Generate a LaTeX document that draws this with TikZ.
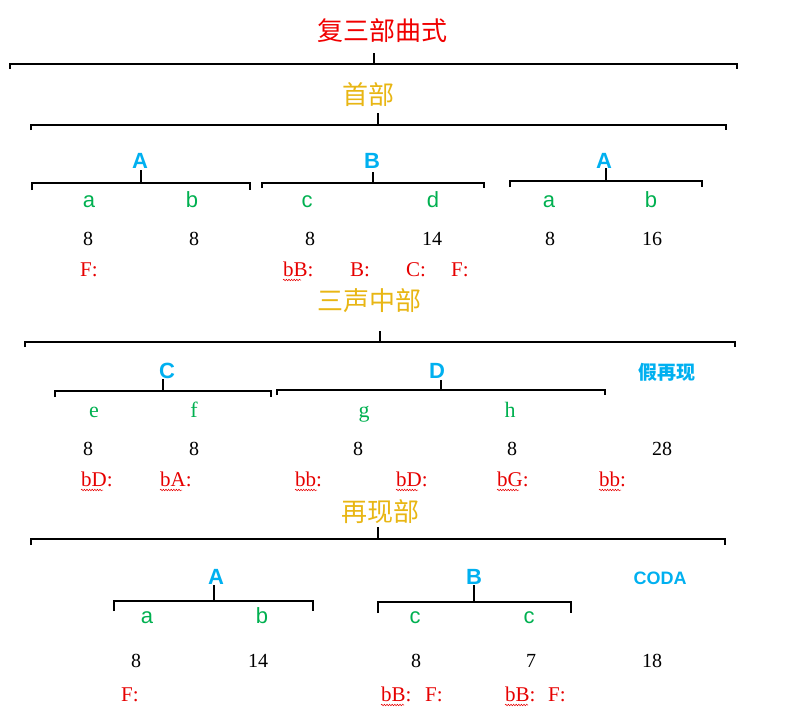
\documentclass[tikz,border=0pt]{standalone}
\usepackage{fontspec}
\setmainfont{Liberation Serif}
\setsansfont{Liberation Sans}
\newfontfamily\cjk{Noto Sans CJK SC}
\usepackage{xcolor}
\usetikzlibrary{positioning,decorations.pathmorphing}

\definecolor{titlered}{RGB}{240,0,0}
\definecolor{secyellow}{RGB}{232,182,20}
\definecolor{partblue}{RGB}{0,176,240}
\definecolor{subgreen}{RGB}{0,176,80}
\definecolor{keyred}{RGB}{230,0,0}

\tikzset{
    ttl/.style={inner sep=0pt, font=\cjk\fontsize{26}{30}\selectfont, text=titlered},
    sec/.style={inner sep=0pt, font=\cjk\fontsize{26}{30}\selectfont, text=secyellow},
    part/.style={inner sep=0pt, anchor=base, font=\sffamily\bfseries\fontsize{22}{26}\selectfont, text=partblue},
    note/.style={inner sep=0pt, anchor=base, font=\sffamily\bfseries\fontsize{18}{22}\selectfont, text=partblue},
    cnote/.style={inner sep=0pt, anchor=base, font=\cjk\bfseries\fontsize{19}{22}\selectfont, text=partblue},
    sub/.style={inner sep=0pt, anchor=base, font=\sffamily\fontsize{22}{26}\selectfont, text=subgreen},
    subs/.style={inner sep=0pt, anchor=base, font=\rmfamily\fontsize{22}{26}\selectfont, text=subgreen},
    num/.style={inner sep=0pt, anchor=base, font=\rmfamily\fontsize{20}{24}\selectfont},
    key/.style={inner sep=0pt, anchor=base west, font=\rmfamily\fontsize{21}{24}\selectfont, text=keyred},
    brk/.style={line width=1.5pt},
    wavy/.style={keyred, line width=0.5pt, decorate, decoration={snake, amplitude=0.8pt, segment length=2.6pt}}
}

\begin{document}
\begin{tikzpicture}[x=1pt,y=-1pt]
    \useasboundingbox (0,0) rectangle (788,715);

    % Whole form
    \node[ttl] (top) at (382,31) {复三部曲式};
    \draw[brk] (10,69) -- (10,64) -- (737,64) -- (737,69) (374,64) -- (374,53);

    % First part
    \node[sec] (s1) at (368,95) {首部};
    \draw[brk] (31,130) -- (31,125) -- (726,125) -- (726,130) (378,125) -- (378,113);

    \node[part] (p1a) at (140,168) {A};
    \draw[brk] (32,190) -- (32,183) -- (250,183) -- (250,190) (141,183) -- (141,170);
    \node[part] (p1b) at (372,168) {B};
    \draw[brk] (262,188) -- (262,183) -- (484,183) -- (484,188) (373,183) -- (373,172);
    \node[part] (p1c) at (604,168) {A};
    \draw[brk] (510,187) -- (510,181) -- (702,181) -- (702,187) (606,181) -- (606,168);

    \node[sub] (q1) at (89,207) {a};
    \node[sub] (q2) at (192,207) {b};
    \node[sub] (q3) at (307,207) {c};
    \node[sub] (q4) at (433,207) {d};
    \node[sub] (q5) at (549,207) {a};
    \node[sub] (q6) at (651,207) {b};

    \node[num] (n1) at (88,245) {8};
    \node[num] (n2) at (194,245) {8};
    \node[num] (n3) at (310,245) {8};
    \node[num] (n4) at (432,245) {14};
    \node[num] (n5) at (550,245) {8};
    \node[num] (n6) at (652,245) {16};

    \node[key] (k1) at (80,276) {F:};
    \node[key] (k2) at (283,276) {bB:};
    \node[key] (k3) at (350,276) {B:};
    \node[key] (k4) at (406,276) {C:};
    \node[key] (k5) at (451,276) {F:};
    \draw[wavy] ([yshift=-4pt]k2.base west) -- ++(18,0);

    % Middle part
    \node[sec] (s2) at (369,301) {三声中部};
    \draw[brk] (25,347) -- (25,342) -- (735,342) -- (735,347) (380,342) -- (380,331);

    \node[part] (p2a) at (167,378) {C};
    \draw[brk] (55,397) -- (55,391) -- (271,391) -- (271,397) (163,391) -- (163,379);
    \node[part] (p2b) at (437,378) {D};
    \draw[brk] (277,395) -- (277,390) -- (605,390) -- (605,395) (441,390) -- (441,380);
    \node[cnote] (p2c) at (667,379) {假再现};

    \node[subs] (r1) at (94,417) {e};
    \node[subs] (r2) at (194,417) {f};
    \node[subs] (r3) at (364,417) {g};
    \node[subs] (r4) at (510,417) {h};

    \node[num] (m1) at (88,455) {8};
    \node[num] (m2) at (194,455) {8};
    \node[num] (m3) at (358,455) {8};
    \node[num] (m4) at (512,455) {8};
    \node[num] (m5) at (662,455) {28};

    \node[key] (j1) at (81,486) {bD:};
    \node[key] (j2) at (160,486) {bA:};
    \node[key] (j3) at (295,486) {bb:};
    \node[key] (j4) at (396,486) {bD:};
    \node[key] (j5) at (497,486) {bG:};
    \node[key] (j6) at (599,486) {bb:};
    \draw[wavy] ([yshift=-4pt]j1.base west) -- ++(22,0);
    \draw[wavy] ([yshift=-4pt]j2.base west) -- ++(22,0);
    \draw[wavy] ([yshift=-4pt]j3.base west) -- ++(22,0);
    \draw[wavy] ([yshift=-4pt]j4.base west) -- ++(22,0);
    \draw[wavy] ([yshift=-4pt]j5.base west) -- ++(22,0);
    \draw[wavy] ([yshift=-4pt]j6.base west) -- ++(22,0);

    % Reprise
    \node[sec] (s3) at (380,512) {再现部};
    \draw[brk] (31,545) -- (31,539) -- (725,539) -- (725,545) (378,539) -- (378,527);

    \node[part] (p3a) at (216,584) {A};
    \draw[brk] (114,611) -- (114,601) -- (313,601) -- (313,611) (214,601) -- (214,585);
    \node[part] (p3b) at (474,584) {B};
    \draw[brk] (378,613) -- (378,602) -- (571,602) -- (571,613) (474,602) -- (474,585);
    \node[note] (p3c) at (660,584) {CODA};

    \node[sub] (t1) at (147,623) {a};
    \node[sub] (t2) at (262,623) {b};
    \node[sub] (t3) at (415,623) {c};
    \node[sub] (t4) at (529,623) {c};

    \node[num] (u1) at (136,667) {8};
    \node[num] (u2) at (258,667) {14};
    \node[num] (u3) at (416,667) {8};
    \node[num] (u4) at (531,667) {7};
    \node[num] (u5) at (652,667) {18};

    \node[key] (v1) at (121,701) {F:};
    \node[key] (v2) at (381,701) {bB:};
    \node[key] (v3) at (425,701) {F:};
    \node[key] (v4) at (505,701) {bB:};
    \node[key] (v5) at (548,701) {F:};
    \draw[wavy] ([yshift=-4pt]v2.base west) -- ++(23,0);
    \draw[wavy] ([yshift=-4pt]v4.base west) -- ++(23,0);
\end{tikzpicture}
\end{document}
